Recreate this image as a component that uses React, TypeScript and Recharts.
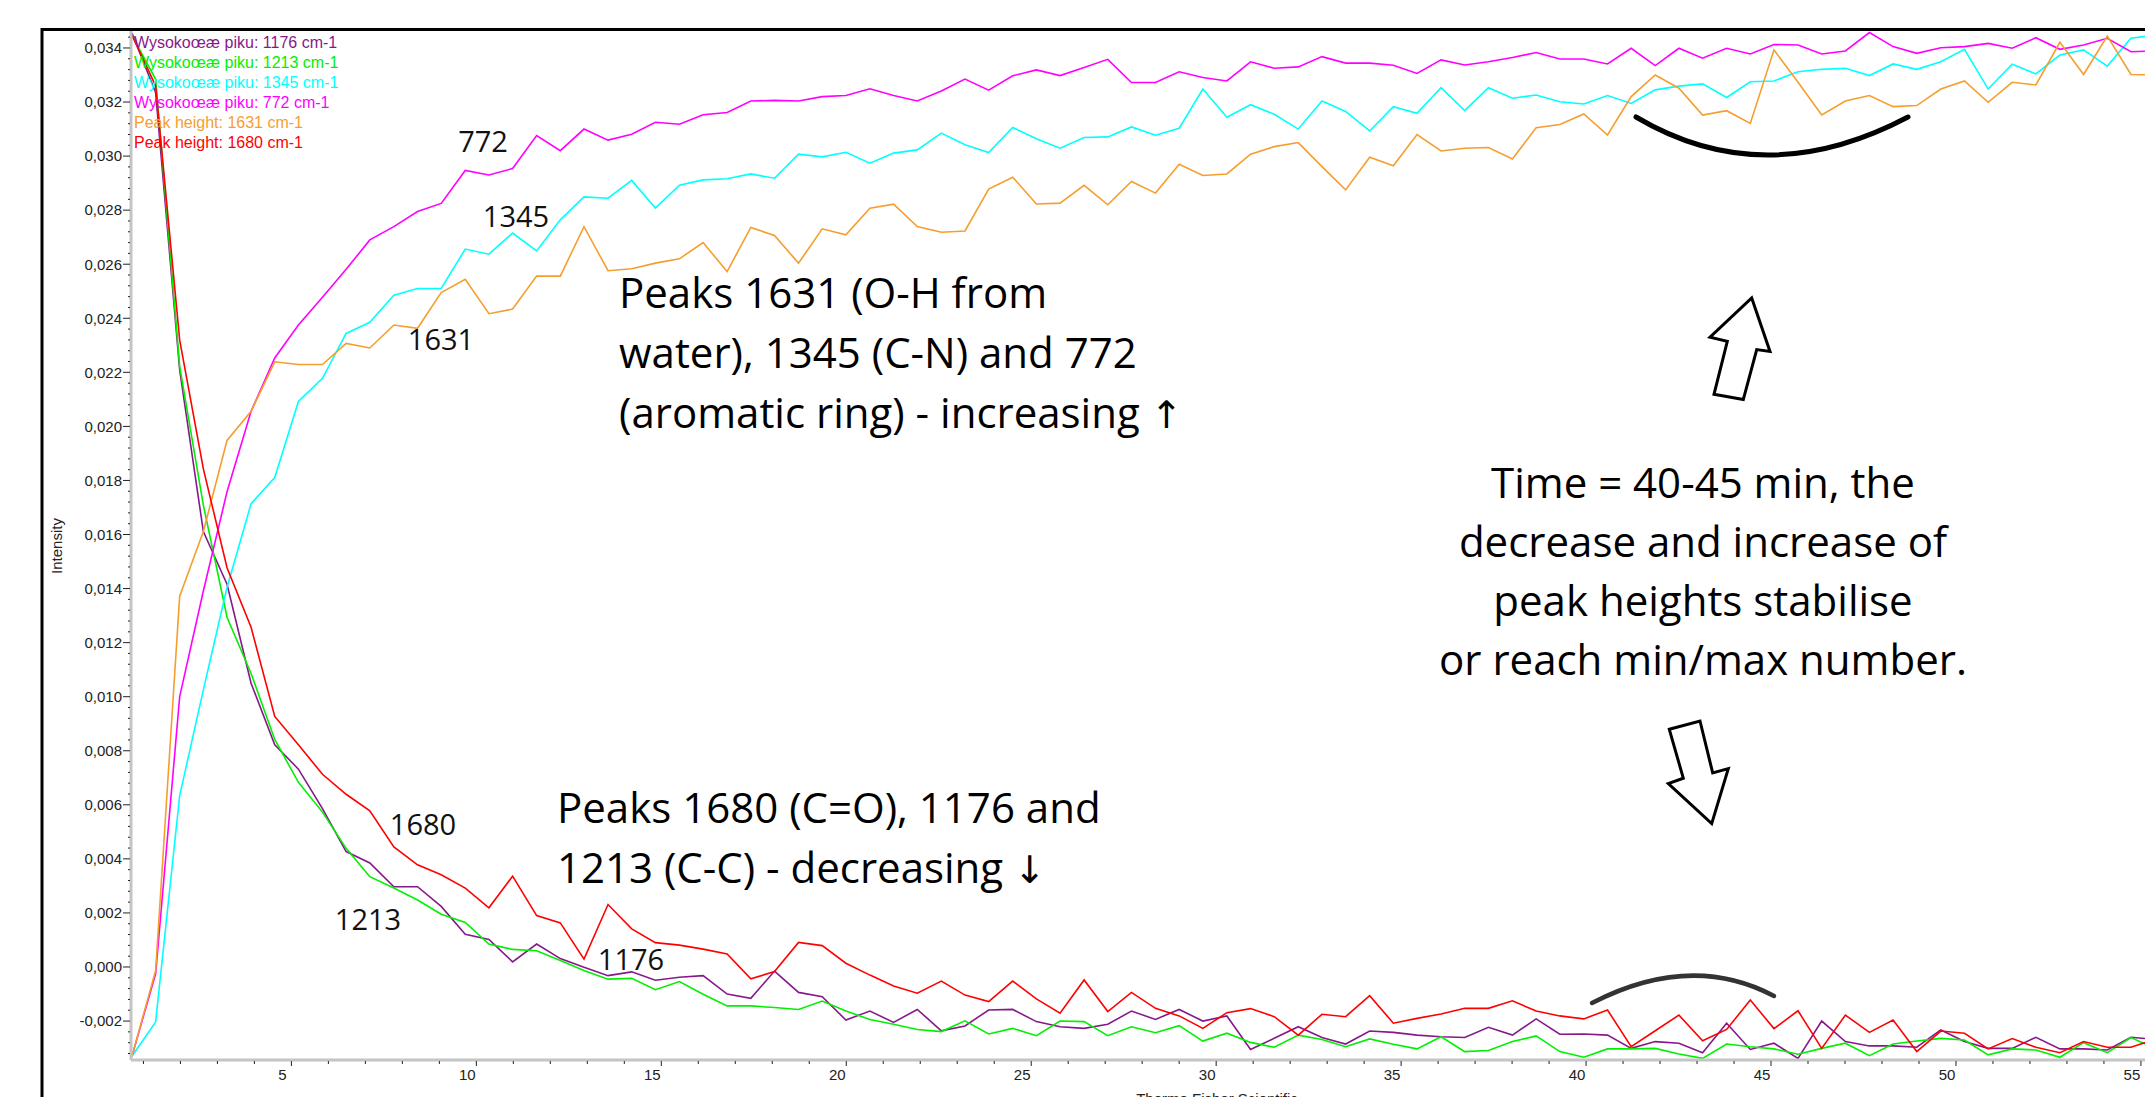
import { LineChart, Line, XAxis, YAxis } from 'recharts';

// time of each spectrum, minutes
const times = [
  0.69, 1.33, 1.98, 2.62, 3.26, 3.91, 4.55, 5.19, 5.84, 6.48,
  7.12, 7.77, 8.41, 9.05, 9.7, 10.34, 10.98, 11.63, 12.27, 12.91,
  13.56, 14.2, 14.84, 15.49, 16.13, 16.78, 17.42, 18.06, 18.71, 19.35,
  19.99, 20.64, 21.28, 21.92, 22.57, 23.21, 23.85, 24.5, 25.14, 25.78,
  26.43, 27.07, 27.71, 28.36, 29.0, 29.64, 30.29, 30.93, 31.57, 32.22,
  32.86, 33.5, 34.15, 34.79, 35.43, 36.08, 36.72, 37.36, 38.01, 38.65,
  39.29, 39.94, 40.58, 41.22, 41.87, 42.51, 43.15, 43.8, 44.44, 45.08,
  45.73, 46.37, 47.01, 47.66, 48.3, 48.94, 49.59, 50.23, 50.87, 51.52,
  52.16, 52.81, 53.45, 54.09, 54.73, 55.38,
];

const peak1176 = [
  0.03455, 0.03235, 0.02209, 0.01611, 0.01416, 0.0105, 0.00822, 0.00732, 0.00586, 0.00427,
  0.00385, 0.00297, 0.00297, 0.00224, 0.00121, 0.00102, 0.00019, 0.00085, 0.00031, -0.00001,
  -0.00032, -0.00018, -0.00049, -0.00038, -0.00032, -0.001, -0.00116, -0.00015, -0.00094, -0.0011,
  -0.00196, -0.00163, -0.00205, -0.00157, -0.00236, -0.00218, -0.00159, -0.00157, -0.00202, -0.00221,
  -0.00227, -0.00212, -0.00163, -0.00194, -0.00157, -0.002, -0.00181, -0.00305, -0.00264, -0.00221,
  -0.00261, -0.00285, -0.00237, -0.00242, -0.00252, -0.00258, -0.00261, -0.00223, -0.00252, -0.00192,
  -0.00249, -0.00248, -0.00252, -0.00301, -0.00276, -0.00282, -0.00317, -0.00208, -0.00305, -0.00282,
  -0.00338, -0.002, -0.00276, -0.00292, -0.00292, -0.00297, -0.00233, -0.00276, -0.00301, -0.00301,
  -0.0026, -0.00303, -0.00303, -0.00307, -0.0026, -0.00268,
];

const peak1213 = [
  0.03447, 0.03284, 0.02222, 0.01709, 0.01294, 0.01086, 0.00842, 0.00683, 0.00573, 0.00439,
  0.00334, 0.00292, 0.00248, 0.00195, 0.00165, 0.00085, 0.00065, 0.0006, 0.00024, -0.00013,
  -0.00045, -0.00042, -0.00084, -0.00054, -0.00101, -0.00144, -0.00144, -0.0015, -0.00157, -0.00126,
  -0.00163, -0.00194, -0.00212, -0.00231, -0.00239, -0.00199, -0.00248, -0.00227, -0.00254, -0.002,
  -0.00202, -0.00254, -0.00221, -0.00243, -0.00217, -0.00274, -0.00245, -0.00279, -0.00297, -0.00252,
  -0.00268, -0.00295, -0.00266, -0.00286, -0.00303, -0.00258, -0.00313, -0.00309, -0.00276, -0.00255,
  -0.00313, -0.00334, -0.00303, -0.00303, -0.00301, -0.00322, -0.00338, -0.00285, -0.00295, -0.00303,
  -0.00323, -0.00301, -0.00282, -0.00328, -0.00285, -0.00274, -0.00264, -0.0027, -0.00325, -0.00303,
  -0.00307, -0.00334, -0.0028, -0.00317, -0.00261, -0.00301,
];

const peak1345 = [
  -0.0033, -0.00203, 0.00634, 0.01025, 0.01404, 0.01714, 0.01811, 0.02092, 0.02178, 0.02344,
  0.02385, 0.02485, 0.0251, 0.0251, 0.02656, 0.02637, 0.02715, 0.02649, 0.02764, 0.02849,
  0.02844, 0.0291, 0.02808, 0.02892, 0.02912, 0.02916, 0.02934, 0.02918, 0.03007, 0.02997,
  0.03014, 0.02974, 0.03011, 0.03023, 0.03085, 0.03042, 0.03013, 0.03106, 0.03064, 0.03029,
  0.03069, 0.03071, 0.03108, 0.03077, 0.03103, 0.03248, 0.03144, 0.0319, 0.03155, 0.031,
  0.03204, 0.03165, 0.03093, 0.03183, 0.03158, 0.03253, 0.03168, 0.03253, 0.03214, 0.03226,
  0.03201, 0.03193, 0.03224, 0.03195, 0.03245, 0.03259, 0.03267, 0.03217, 0.03275, 0.03278,
  0.03312, 0.03321, 0.03325, 0.03298, 0.03341, 0.03321, 0.03349, 0.03395, 0.03248, 0.0334,
  0.03304, 0.03374, 0.03393, 0.03333, 0.03436, 0.03448,
];

const peak772 = [
  -0.0033, -0.00025, 0.01, 0.01391, 0.01758, 0.02056, 0.02253, 0.02375, 0.02478, 0.02581,
  0.0269, 0.02739, 0.02795, 0.02825, 0.02947, 0.0293, 0.02954, 0.03076, 0.0302, 0.031,
  0.03059, 0.03081, 0.03125, 0.03118, 0.03153, 0.03161, 0.03204, 0.03206, 0.03204, 0.0322,
  0.03224, 0.03249, 0.03224, 0.03204, 0.03241, 0.03285, 0.03244, 0.03297, 0.03319, 0.03298,
  0.03328, 0.03358, 0.03272, 0.03272, 0.03312, 0.03291, 0.03278, 0.03349, 0.03325, 0.0333,
  0.03368, 0.03344, 0.03344, 0.03336, 0.03306, 0.03356, 0.03337, 0.03349, 0.03365, 0.03383,
  0.03359, 0.03359, 0.03341, 0.03399, 0.03335, 0.03399, 0.03362, 0.03399, 0.03378, 0.03413,
  0.03411, 0.03378, 0.03389, 0.03457, 0.03405, 0.0338, 0.03401, 0.03405, 0.03417, 0.03399,
  0.03438, 0.03395, 0.03411, 0.03436, 0.03386, 0.03389,
];

const peak1631 = [
  -0.0033, -0.00013, 0.01372, 0.01611, 0.01948, 0.02056, 0.02239, 0.02229, 0.02229, 0.02307,
  0.0229, 0.02375, 0.02363, 0.02495, 0.02544, 0.02417, 0.02434, 0.02556, 0.02556, 0.02739,
  0.02576, 0.02583, 0.02604, 0.0262, 0.0268, 0.02573, 0.02736, 0.02706, 0.02604, 0.02731,
  0.02709, 0.02807, 0.02822, 0.02739, 0.02718, 0.02723, 0.02878, 0.02922, 0.02823, 0.02826,
  0.02892, 0.0282, 0.02906, 0.02863, 0.0297, 0.02928, 0.02934, 0.03007, 0.03035, 0.0305,
  0.02961, 0.02875, 0.02996, 0.02964, 0.0308, 0.03019, 0.03029, 0.03032, 0.02989, 0.03105,
  0.03117, 0.03156, 0.03078, 0.0322, 0.033, 0.03251, 0.03152, 0.03168, 0.03121, 0.03393,
  0.03273, 0.03152, 0.03204, 0.03224, 0.03183, 0.03187, 0.03248, 0.03278, 0.03199, 0.03273,
  0.03263, 0.03421, 0.03302, 0.03444, 0.03302, 0.033,
];

const peak1680 = [
  0.03447, 0.0326, 0.02319, 0.01843, 0.01477, 0.01257, 0.00927, 0.00822, 0.00713, 0.00639,
  0.00578, 0.00444, 0.00378, 0.00341, 0.00292, 0.00219, 0.00336, 0.0019, 0.00163, 0.00029,
  0.00231, 0.00141, 0.0009, 0.00081, 0.00066, 0.00048, -0.00044, -0.00017, 0.00091, 0.00079,
  0.00014, -0.0003, -0.0007, -0.00097, -0.00052, -0.00104, -0.00128, -0.00052, -0.00118, -0.00171,
  -0.00048, -0.00165, -0.00094, -0.00153, -0.00181, -0.00227, -0.00169, -0.00154, -0.00184, -0.00252,
  -0.00175, -0.00184, -0.00106, -0.00208, -0.0019, -0.00174, -0.00153, -0.00153, -0.00125, -0.00163,
  -0.00181, -0.00192, -0.00159, -0.00295, -0.00236, -0.00178, -0.00273, -0.00231, -0.00122, -0.00228,
  -0.00162, -0.00301, -0.00178, -0.00242, -0.00196, -0.00313, -0.00237, -0.00245, -0.00303, -0.00265,
  -0.00297, -0.00317, -0.00276, -0.00297, -0.00297, -0.00268,
];

const series = [
  { key: 'p1176', name: 'Wysokoœæ piku: 1176 cm-1', color: '#86198a', values: peak1176 },
  { key: 'p1213', name: 'Wysokoœæ piku: 1213 cm-1', color: '#00f000', values: peak1213 },
  { key: 'p1345', name: 'Wysokoœæ piku: 1345 cm-1', color: '#00ffff', values: peak1345 },
  { key: 'p772', name: 'Wysokoœæ piku: 772 cm-1', color: '#ff00ff', values: peak772 },
  { key: 'p1631', name: 'Peak height: 1631 cm-1', color: '#f59e2e', values: peak1631 },
  { key: 'p1680', name: 'Peak height: 1680 cm-1', color: '#ff0000', values: peak1680 },
];

const peakLabels = [
  { text: '772', x: 483, y: 142 },
  { text: '1345', x: 516, y: 217 },
  { text: '1631', x: 441, y: 340 },
  { text: '1680', x: 423, y: 825 },
  { text: '1213', x: 368, y: 920 },
  { text: '1176', x: 631, y: 960 },
];

// [text, trailing arrow glyph]
const noteIncreasing: [string, string][] = [
  ['Peaks 1631 (O-H from', ''],
  ['water), 1345 (C-N) and 772', ''],
  ['(aromatic ring) - increasing ', '↑'],
];
const noteDecreasing: [string, string][] = [
  ['Peaks 1680 (C=O), 1176 and', ''],
  ['1213 (C-C) - decreasing ', '↓'],
];
const noteTime = ['Time = 40-45 min, the', 'decrease and increase of', 'peak heights stabilise', 'or reach min/max number.'];

const xTicks = Array.from({ length: 55 }, (_, i) => i + 1);
const yTicks = Array.from({ length: 95 }, (_, i) => Number(((i - 8) * 0.0004).toFixed(4)));

const data = times.map((t, i) => {
  const row: Record<string, number> = { t };
  series.forEach(s => { row[s.key] = s.values[i]; });
  return row;
});

const axisFont = '"Liberation Sans", Arial, sans-serif';
const noteFont = '"Open Sans", "Noto Sans", sans-serif';

const YTick = (props: any) => {
  const { x, y, payload } = props;
  const major = Math.round(payload.value / 0.0004) % 5 === 0;
  return (
    <g>
      <line x1={x - (major ? 8 : 3)} x2={x - 1} y1={y} y2={y} stroke="#222" />
      {major && (
        <text x={x - 9} y={y + 5.3} textAnchor="end" fontSize={15} fill="#222" fontFamily={axisFont}>
          {payload.value.toFixed(3).replace('.', ',')}
        </text>
      )}
    </g>
  );
};

const XTick = (props: any) => {
  const { x, y, payload } = props;
  const major = payload.value % 5 === 0;
  return (
    <g>
      <line x1={x} x2={x} y1={y + 1} y2={y + (major ? 6 : 4)} stroke="#222" />
      {major && (
        <text x={x - 9} y={y + 20} textAnchor="middle" fontSize={15} fill="#222" fontFamily={axisFont}>
          {payload.value}
        </text>
      )}
    </g>
  );
};

const NoteLine = ({ x, y, text, glyph, anchor }: { x: number; y: number; text: string; glyph?: string; anchor?: string }) => (
  <text x={x} y={y} fontSize={42} fill="#000" fontFamily={noteFont} textAnchor={anchor || 'start'}>
    {text}
    {glyph && <tspan fontFamily='"DejaVu Sans", sans-serif' fontSize={38}>{glyph}</tspan>}
  </text>
);

const App = () => {
  return (
    <div style={{ position: 'absolute', left: 0, top: 0, width: 2145, height: 1097, overflow: 'hidden', background: '#fff' }}>
      <LineChart width={2145} height={1097} data={data} margin={{ top: 31, right: 0, bottom: 0, left: 0 }}>
        <XAxis
          dataKey="t"
          type="number"
          domain={[0.664, 55.11]}
          allowDataOverflow
          ticks={xTicks}
          interval={0}
          tick={(p: any) => <XTick {...p} />}
          tickLine={false}
          tickSize={0}
          tickMargin={0}
          height={37}
          axisLine={{ stroke: '#c4c4c4', strokeWidth: 3 }}
        />
        <YAxis
          type="number"
          domain={[-0.003441, 0.034628]}
          allowDataOverflow
          ticks={yTicks}
          interval={0}
          tick={(p: any) => <YTick {...p} />}
          tickLine={false}
          tickSize={0}
          tickMargin={0}
          width={131}
          axisLine={{ stroke: '#c4c4c4', strokeWidth: 3 }}
        />
        {series.map(s => (
          <Line
            key={s.key}
            dataKey={s.key}
            type="linear"
            stroke={s.color}
            strokeWidth={1.6}
            dot={false}
            activeDot={false}
            isAnimationActive={false}
          />
        ))}
      </LineChart>

      <svg width={2145} height={1097} style={{ position: 'absolute', left: 0, top: 0, pointerEvents: 'none' }}>
        {/* slide frame */}
        <line x1={42} x2={42} y1={28} y2={1097} stroke="#000" strokeWidth={3} />
        <line x1={41} x2={2145} y1={29.5} y2={29.5} stroke="#000" strokeWidth={3} />

        {/* legend */}
        {series.map((s, i) => (
          <text key={s.key} x={134} y={48 + i * 20} fontSize={16} fill={s.color} fontFamily={axisFont}>
            {s.name}
          </text>
        ))}

        <text
          x={56}
          y={546}
          transform="rotate(-90 56 546)"
          textAnchor="middle"
          dominantBaseline="central"
          fontSize={15}
          fill="#222"
          fontFamily={axisFont}
        >
          Intensity
        </text>
        <text x={1217} y={1104} textAnchor="middle" fontSize={15} fill="#222" fontFamily={axisFont}>
          Thermo Fisher Scientific
        </text>

        {peakLabels.map(l => (
          <text key={l.text} x={l.x} y={l.y + 10.4} textAnchor="middle" fontSize={29} fill="#111" fontFamily={noteFont}>
            {l.text}
          </text>
        ))}

        {noteIncreasing.map(([line, glyph], i) => (
          <NoteLine key={line} x={619} y={308 + i * 60} text={line} glyph={glyph} />
        ))}
        {noteDecreasing.map(([line, glyph], i) => (
          <NoteLine key={line} x={557} y={823 + i * 60} text={line} glyph={glyph} />
        ))}
        {noteTime.map((line, i) => (
          <NoteLine key={line} x={1703} y={498 + i * 59} text={line} anchor="middle" />
        ))}

        {/* block arrows */}
        <polygon
          points="1751.7,297.9 1770,351.4 1756.7,349.6 1743.3,399.6 1714,394.3 1727.3,341.4 1710,337.1"
          fill="#fff"
          stroke="#000"
          strokeWidth={3}
        />
        <polygon
          points="1669.3,729.3 1700,721 1712.7,772.9 1728.3,768.6 1711.7,823.6 1668.3,783.6 1683.3,778.2"
          fill="#fff"
          stroke="#000"
          strokeWidth={3}
        />

        {/* hand-drawn brackets */}
        <path d="M1636,117 Q1764,193 1908,117" fill="none" stroke="#000" strokeWidth={5} strokeLinecap="round" />
        <path d="M1592,1003 Q1691,952 1774,996" fill="none" stroke="#333" strokeWidth={4.5} strokeLinecap="round" />
      </svg>
    </div>
  );
};

export default App;
